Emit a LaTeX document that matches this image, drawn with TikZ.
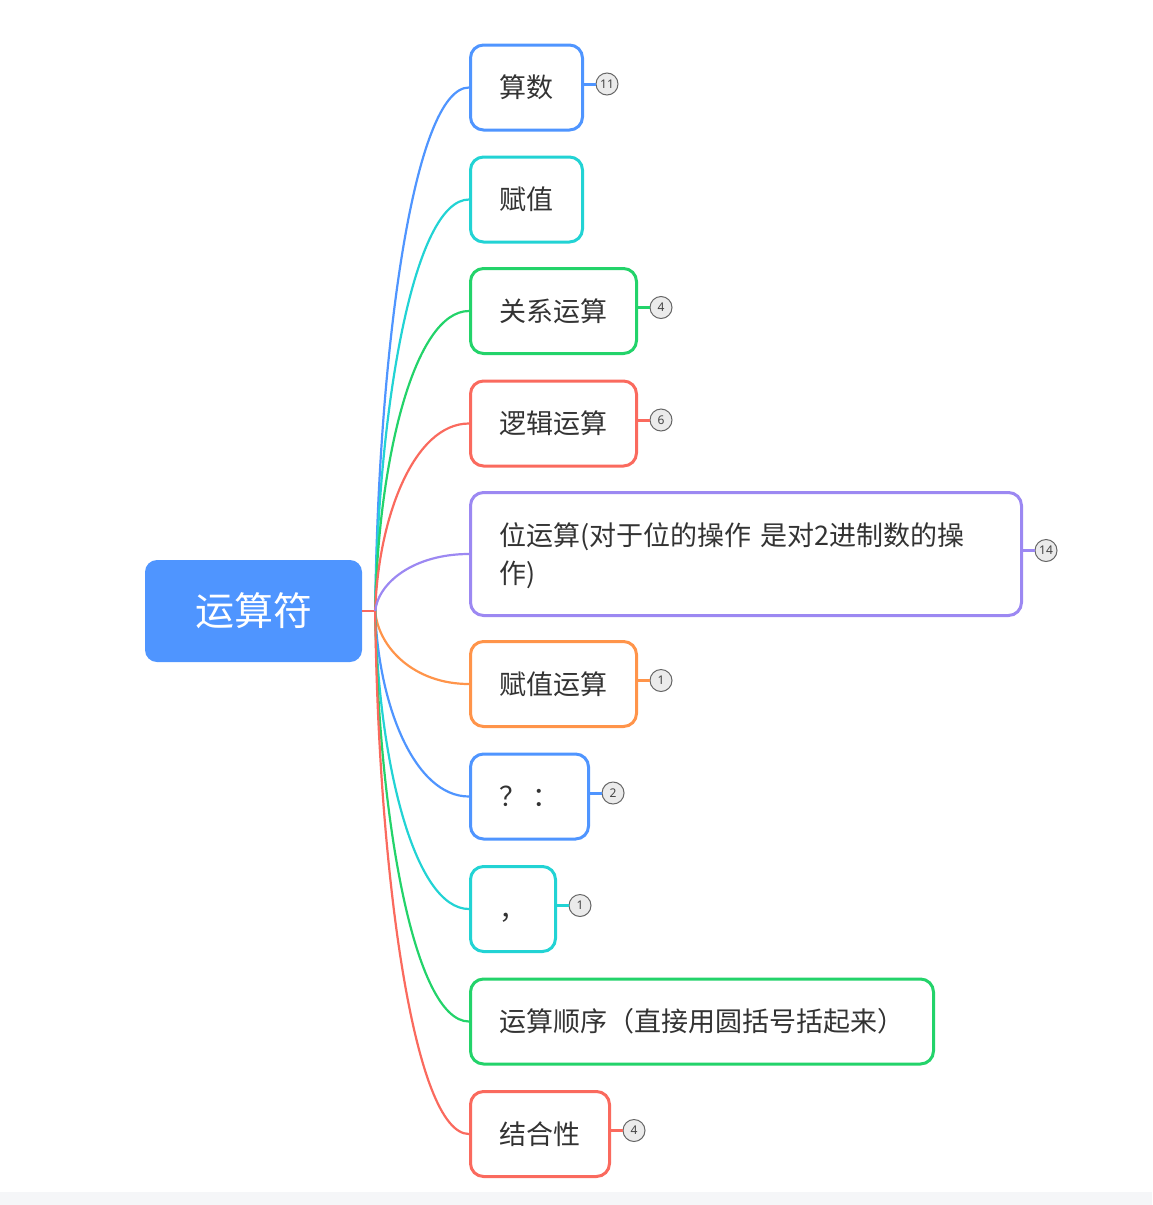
\documentclass[tikz,border=0pt]{standalone}
\usepackage{fontspec}
\newfontfamily\cjk{Noto Sans CJK SC}
\newfontfamily\badgefont{Noto Sans}
\usetikzlibrary{calc}

\definecolor{cblue}{HTML}{4F95FF}
\definecolor{ccyan}{HTML}{22D3D4}
\definecolor{cgreen}{HTML}{23D36A}
\definecolor{cred}{HTML}{FA6A5E}
\definecolor{cpurple}{HTML}{9C88F2}
\definecolor{corange}{HTML}{FF944A}
\definecolor{txt}{HTML}{333333}
\definecolor{bdgfill}{HTML}{EBEBEB}
\definecolor{bdgline}{HTML}{666666}
\definecolor{bdgtext}{HTML}{444444}
\definecolor{bgstrip}{HTML}{F5F6F8}

\tikzset{
  root/.style={fill=cblue, rounded corners=12pt, minimum width=217pt, minimum height=102pt,
    text=white, font=\cjk\fontsize{39}{39}\selectfont},
  box/.style={draw=#1, line width=3pt, rounded corners=13pt, fill=white, text=txt,
    font=\cjk\fontsize{27}{38}\selectfont, inner xsep=29pt, inner ysep=29pt, anchor=west},
  leaf/.style={box=#1, text height=23.8pt, text depth=3.2pt},
  conn/.style={draw=#1, line width=2.2pt},
  badge/.style={circle, draw=bdgline, fill=bdgfill, line width=1pt, minimum size=22pt,
    inner sep=0pt, text=bdgtext, font=\badgefont\fontsize{12}{12}\selectfont}
}

\begin{document}
\begin{tikzpicture}[x=1pt,y=-1pt]
  \useasboundingbox (0,0) rectangle (1152,1205);
  \fill[bgstrip] (0,1192) rectangle (1152,1205);

  \node[root] (root) at (253.5,611) {运算符};
  \coordinate (hub) at ([xshift=13pt]root.east);
  \draw[conn=cred] (root.east) -- (hub);

  \node[leaf=cblue] (n1) at (469,87.5) {算数};
  \node[leaf=ccyan] (n2) at (469,199.5) {赋值};
  \node[leaf=cgreen] (n3) at (469,311) {关系运算};
  \node[leaf=cred] (n4) at (469,423.5) {逻辑运算};
  \node[box=cpurple, text width=493pt, align=left, text height=23.8pt, text depth=41.2pt]
    (n5) at (469,554) {位运算(对于位的操作 是对2进制数的操\\作)};
  \node[leaf=corange] (n6) at (469,684) {赋值运算};
  \node[leaf=cblue] (n7) at (469,796.5) {？ ：};
  \node[leaf=ccyan] (n8) at (469,909) {，};
  \node[leaf=cgreen] (n9) at (469,1021.5) {运算顺序（直接用圆括号括起来）};
  \node[leaf=cred] (n10) at (469,1134) {结合性};

  \foreach \n/\c in {n1/cblue,n2/ccyan,n3/cgreen,n4/cred,n5/cpurple,
                     n6/corange,n7/cblue,n8/ccyan,n9/cgreen,n10/cred}
    \draw[conn=\c] (hub) .. controls ($(hub)!.5!(hub|-\n.west)+(3,0)$)
      and ($(\n.west)+(-55,0)$) .. (\n.west);

  % count badges
  \foreach \n/\c/\k in {n1/cblue/11,n3/cgreen/4,n4/cred/6,n5/cpurple/14,
                        n6/corange/1,n7/cblue/2,n8/ccyan/1,n10/cred/4}{
    \node[badge] (b\n) at ([xshift=23pt,yshift=3.5pt]\n.east) {\k};
    \draw[conn=\c, line width=3pt] (\n.east|-b\n) -- (b\n.west);
  }
\end{tikzpicture}
\end{document}
